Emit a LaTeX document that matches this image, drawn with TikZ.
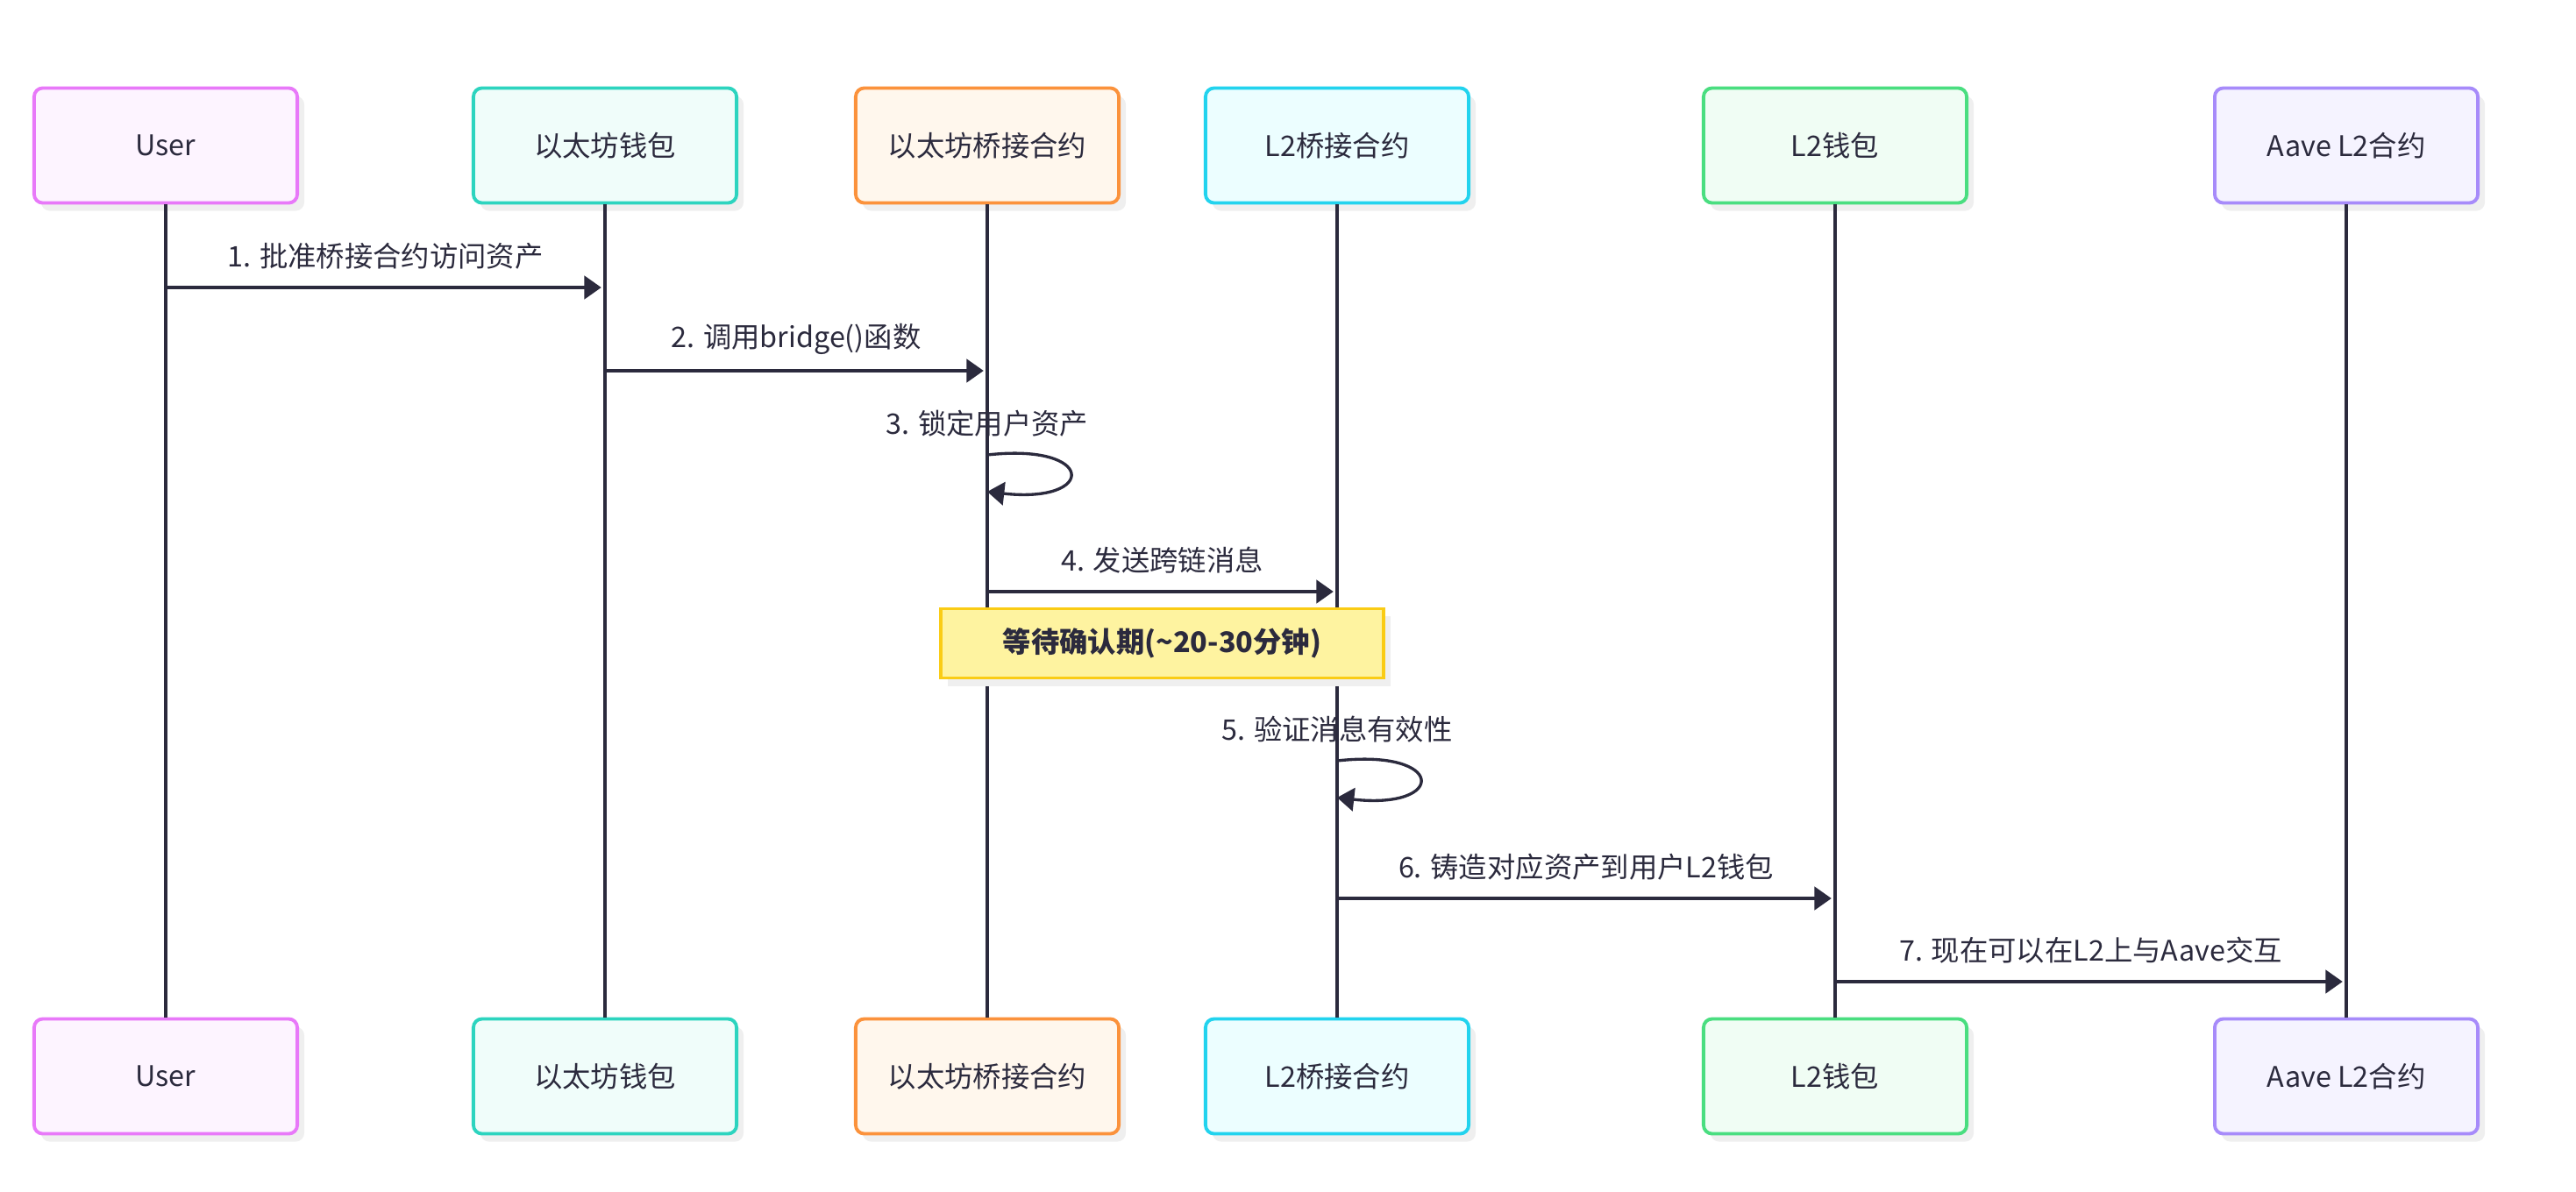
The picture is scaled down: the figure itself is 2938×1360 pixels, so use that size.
\documentclass[tikz,border=0pt]{standalone}
\usepackage{fontspec}
\setmainfont{Noto Sans CJK SC}
\usepackage{tikz}
\usetikzlibrary{arrows.meta,shadows,calc}
\definecolor{ink}{HTML}{2B2A3D}
\definecolor{shade}{HTML}{EFEFEF}
\definecolor{Duser}{HTML}{E879F9}\definecolor{Fuser}{HTML}{FDF4FF}
\definecolor{Dethw}{HTML}{2DD4BF}\definecolor{Fethw}{HTML}{F0FDFA}
\definecolor{Dethb}{HTML}{FB923C}\definecolor{Fethb}{HTML}{FFF7ED}
\definecolor{Dlb}{HTML}{22D3EE}\definecolor{Flb}{HTML}{ECFEFF}
\definecolor{Dlw}{HTML}{4ADE80}\definecolor{Flw}{HTML}{F0FDF4}
\definecolor{Daave}{HTML}{A78BFA}\definecolor{Faave}{HTML}{F5F3FF}
\definecolor{Dnote}{HTML}{FACC15}\definecolor{Fnote}{HTML}{FEF3A0}
\tikzset{
  actor/.style={rectangle,rounded corners=2.8pt,line width=1.1pt,
    minimum width=3cm,minimum height=1.31cm,text=ink,
    font=\fontsize{9.2}{11}\selectfont,
    drop shadow={shadow xshift=0.08cm,shadow yshift=-0.09cm,fill=shade,opacity=1}},
  life/.style={draw=ink,line width=0.95pt},
  msg/.style={draw=ink,line width=0.95pt,-{Triangle[length=5.5pt,width=7.5pt]},shorten >=1.2pt},
  lbl/.style={text=ink,font=\fontsize{9.2}{11}\selectfont},
  waitbox/.style={rectangle,draw=Dnote,fill=Fnote,line width=1.1pt,
    minimum width=5.04cm,minimum height=0.79cm,text=ink,
    font=\fontsize{9.2}{11}\selectfont\bfseries,
    drop shadow={shadow xshift=0.08cm,shadow yshift=-0.09cm,fill=shade,opacity=1}}
}
\begin{document}
\begin{tikzpicture}[x=0.01cm,y=-0.01cm]
\useasboundingbox (0,0) rectangle (2938,1360);
%actors, top and bottom
\foreach \n/\x/\t in {user/189/User,ethw/690/以太坊钱包,ethb/1126/以太坊桥接合约,
  lb/1525/L2桥接合约,lw/2093/L2钱包,aave/2676/{Aave L2合约}}
{
\node[actor,draw=D\n,fill=F\n] (\n-top) at (\x,166) {\t};
\node[actor,draw=D\n,fill=F\n] (\n-bot) at (\x,1228) {\t};
\draw[life] (\n-top.south) -- (\n-bot.north); %lifeline
}
%messages
\foreach \a/\b/\y/\t in {user/ethw/328/{1. 批准桥接合约访问资产},
  ethw/ethb/423/{2. 调用bridge()函数},
  ethb/lb/675/{4. 发送跨链消息},
  lb/lw/1025/{6. 铸造对应资产到用户L2钱包},
  lw/aave/1120/{7. 现在可以在L2上与Aave交互}}
{
\draw[msg] (\a-top |- 0,\y) -- node[lbl,midway,yshift=0.36cm] {\t} (\b-top |- 0,\y);
}
%self calls
\foreach \a/\y/\t in {ethb/519/{3. 锁定用户资产},lb/868/{5. 验证消息有效性}}
{
\node[lbl] (\a-self) at (\a-top |- 0,\y-36) {\t};
\draw[msg,shorten >=0pt] (\a-top |- 0,\y) .. controls +(125,-14) and +(125,14) .. (\a-top |- 0,\y+42);
}
%waiting period
\coordinate (bridges) at ($(ethb-top)!.5!(lb-top)$);
\node[waitbox] (wait) at (bridges |- 0,734) {等待确认期(\textasciitilde 20-30分钟)};
\end{tikzpicture}
\end{document}
